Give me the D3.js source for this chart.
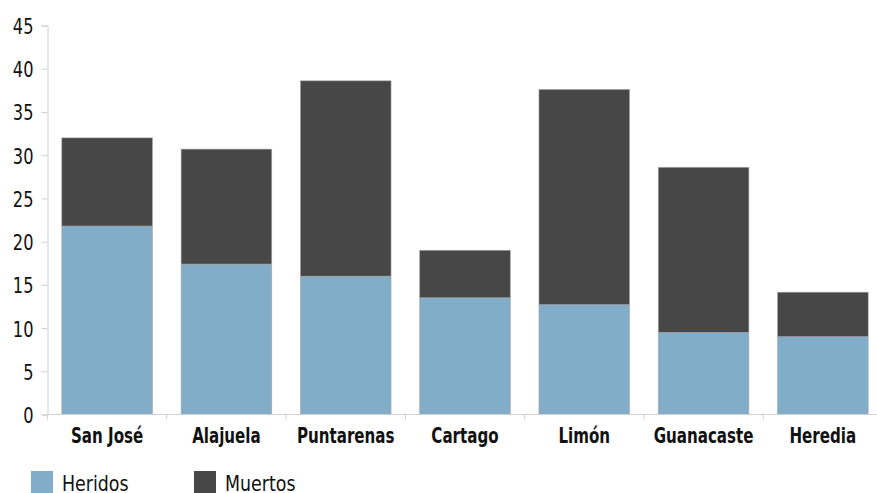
<!DOCTYPE html>
<html>
<head>
<meta charset="utf-8">
<script src="https://cdn.jsdelivr.net/npm/d3@7"></script>
<style>
  html, body { margin: 0; padding: 0; background: #fff; }
  svg { display: block; }
</style>
</head>
<body>
<svg id="chart" width="877" height="493"></svg>
<script>
// Provincias y tasas por tipo de víctima
const provincias = ["San José", "Alajuela", "Puntarenas", "Cartago", "Limón", "Guanacaste", "Heredia"];
const heridos = [21.8, 17.4, 16.0, 13.5, 12.7, 9.5, 9.0];
const muertos = [10.2, 13.3, 22.6, 5.5, 24.9, 19.1, 5.15];
const yTicks = [0, 5, 10, 15, 20, 25, 30, 35, 40, 45];
const series = ["Heridos", "Muertos"];
const colores = ["#81adc8", "#474747"];

const svg = d3.select("#chart");
const m = { left: 47.5, right: 882.5, top: 25.5, bottom: 414.5 };
const font = '"DejaVu Sans Condensed", "DejaVu Sans", sans-serif';

const x = d3.scaleBand().domain(provincias).range([m.left, m.right]).paddingInner(0.24).paddingOuter(0.12);
const y = d3.scaleLinear().domain([0, 45]).range([m.bottom, m.top]);

const rows = provincias.map((p, i) => ({ provincia: p, Heridos: heridos[i], Muertos: muertos[i] }));
const stacked = d3.stack().keys(series)(rows);
const color = d3.scaleOrdinal().domain(series).range(colores);

// Barras apiladas
svg.append("g").selectAll("g")
  .data(stacked).join("g")
  .attr("fill", d => color(d.key))
  .selectAll("rect")
  .data(d => d).join("rect")
  .attr("x", d => x(d.data.provincia))
  .attr("width", x.bandwidth())
  .attr("y", d => y(d[1]))
  .attr("height", d => y(d[0]) - y(d[1]))
  .attr("stroke", "#a9a9a9")
  .attr("stroke-width", 0.6);

// Texto estrecho: se comprime en horizontal
function narrow(sel, k, px, py) {
  sel.attr("x", 0).attr("y", 0)
     .attr("transform", (d, i) => `translate(${px(d, i)},${py(d, i)}) scale(${k},1)`);
}

// Eje Y
const yAxis = svg.append("g")
  .attr("transform", `translate(${m.left},0)`)
  .call(d3.axisLeft(y).tickValues(yTicks).tickSize(6).tickFormat(d3.format("d")));
yAxis.select(".domain").attr("stroke", "#d0d0d0");
yAxis.selectAll(".tick line").attr("stroke", "#d0d0d0");
yAxis.selectAll(".tick text")
  .attr("font-family", font).attr("font-size", 22).attr("fill", "#111")
  .attr("dy", null)
  .call(narrow, 0.82, () => -14, () => 8);

// Eje X
const xTickPos = d3.range(provincias.length + 1).map(i => m.left + i * x.step());
const xAxisG = svg.append("g");
xAxisG.append("line")
  .attr("x1", m.left).attr("x2", m.right)
  .attr("y1", m.bottom).attr("y2", m.bottom)
  .attr("stroke", "#d0d0d0");
xAxisG.selectAll("line.sep").data(xTickPos).join("line")
  .attr("class", "sep")
  .attr("x1", d => d).attr("x2", d => d)
  .attr("y1", m.bottom).attr("y2", m.bottom + 5)
  .attr("stroke", "#d0d0d0");
xAxisG.selectAll("text").data(provincias).join("text")
  .attr("text-anchor", "middle")
  .attr("font-family", font)
  .attr("font-weight", "bold")
  .attr("font-size", 21)
  .attr("fill", "#111")
  .text(d => d)
  .call(narrow, 0.8, d => x(d) + x.bandwidth() / 2, () => 443);

// Leyenda
const legendX = [31, 194];
const legend = svg.append("g").selectAll("g").data(series).join("g")
  .attr("transform", (d, i) => `translate(${legendX[i]},471)`);
legend.append("rect").attr("width", 22).attr("height", 22).attr("fill", d => color(d));
legend.append("text")
  .attr("font-family", font).attr("font-size", 22).attr("fill", "#111")
  .text(d => d)
  .call(narrow, 0.88, () => 31, () => 20);
</script>
</body>
</html>
